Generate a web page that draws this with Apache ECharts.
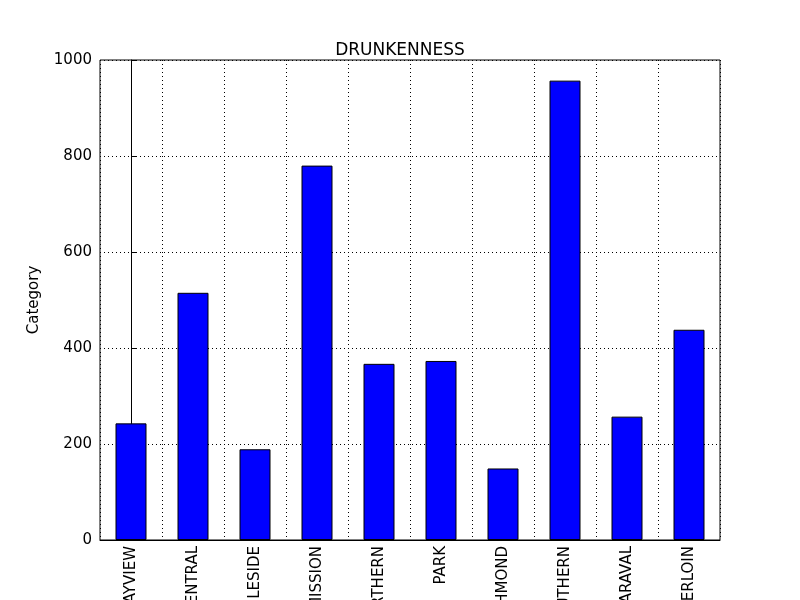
<!DOCTYPE html>
<html>
<head>
<meta charset="utf-8">
<script src="https://cdn.jsdelivr.net/npm/echarts@6/dist/echarts.min.js"></script>
<style>html,body{margin:0;padding:0;background:#fff}#chart{width:800px;height:600px}</style>
</head>
<body>
<div id="chart"></div>
<script>
const districts = ['BAYVIEW', 'CENTRAL', 'INGLESIDE', 'MISSION', 'NORTHERN', 'PARK', 'RICHMOND', 'SOUTHERN', 'TARAVAL', 'TENDERLOIN']
const counts = [243, 515, 189, 780, 367, 373, 149, 957, 257, 438]

const chart = echarts.init(document.getElementById('chart'))
const font = 'DejaVu Sans'
const dotted = { color: '#000', type: [1, 3] }
chart.setOption({
  animation: false,
  title: {
    text: 'DRUNKENNESS', left: 'center', top: 37,
    textStyle: { fontFamily: font, fontSize: 17, fontWeight: 'normal', color: '#000' }
  },
  grid: { left: 100, right: 80, top: 60, bottom: 60, containLabel: false, outerBoundsMode: 'none' },
  xAxis: [{
    type: 'category', data: districts,
    axisLine: { lineStyle: { color: '#000' } },
    axisTick: { alignWithLabel: true, inside: true, lineStyle: { color: '#000' } },
    axisLabel: { rotate: 90, fontFamily: font, fontSize: 15, color: '#000', margin: 6, interval: 0 },
    splitLine: { show: false }
  }, {
    // helper axis only for grid lines at category centres
    type: 'value', min: -0.5, max: 9.5, position: 'bottom',
    axisLine: { show: false }, axisTick: { show: false }, axisLabel: { show: false },
    splitLine: { show: true, lineStyle: dotted },
    splitNumber: 10, interval: 1
  }],
  yAxis: {
    type: 'value', min: 0, max: 1000, interval: 200,
    name: 'Category', nameLocation: 'middle', nameGap: 58,
    nameTextStyle: { fontFamily: font, fontSize: 15, color: '#000' },
    axisLine: { show: true, lineStyle: { color: '#000' } },
    axisTick: { show: true, inside: true, lineStyle: { color: '#000' } },
    axisLabel: { fontFamily: font, fontSize: 15, color: '#000', margin: 8, formatter: v => String(v) },
    splitLine: { show: true, lineStyle: dotted }
  },
  series: [{
    type: 'bar', data: counts, barWidth: '50%', xAxisIndex: 0,
    itemStyle: { color: '#0000ff', borderColor: '#000', borderWidth: 1 }
  }],
  graphic: [{
    type: 'rect', shape: { x: 100, y: 60, width: 620, height: 480 },
    style: { fill: null, stroke: '#000', lineWidth: 1 }, silent: true, z: 100
  }]
})
</script>
</body>
</html>
